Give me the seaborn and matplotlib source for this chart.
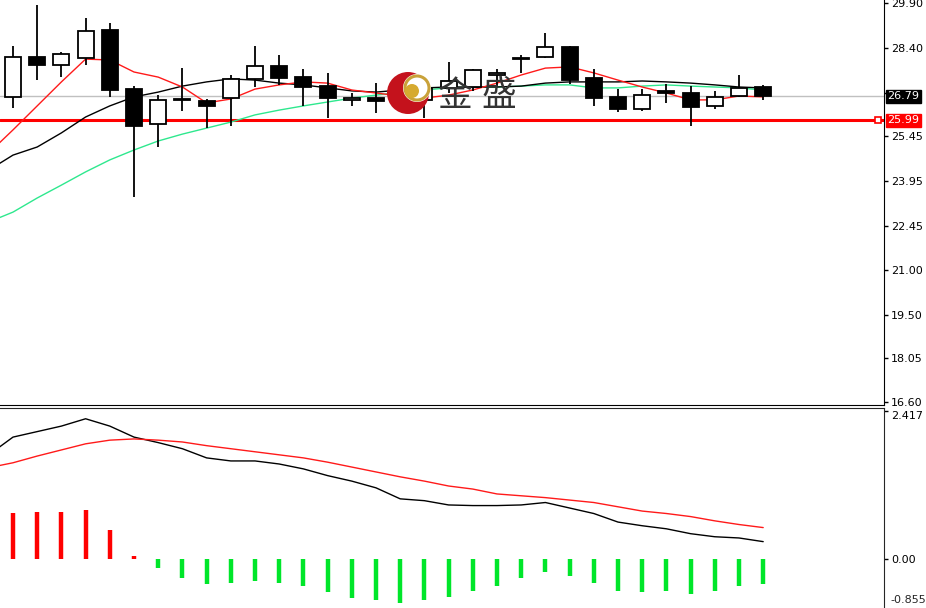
import numpy as np
import matplotlib
matplotlib.use("Agg")
import matplotlib.pyplot as plt
import seaborn as sns
from matplotlib.patches import Rectangle, Ellipse

# ==== K线数据 ====
opens = [26.77, 28.10, 27.83, 28.07, 29.00, 27.03, 25.87, 26.67, 26.63, 26.73,
         27.37, 27.80, 27.43, 27.13, 26.65, 26.73, 26.60, 26.67, 27.07, 27.10,
         27.50, 28.03, 28.10, 28.43, 27.40, 26.77, 26.37, 26.97, 26.90, 26.47,
         26.80, 27.10]
highs = [28.47, 29.83, 28.27, 29.40, 29.23, 27.13, 26.83, 27.73, 26.70, 27.50,
         28.47, 28.17, 27.70, 27.57, 26.90, 27.23, 27.00, 27.10, 27.93, 27.70,
         27.70, 28.17, 28.90, 28.47, 27.70, 27.03, 27.03, 27.20, 27.13, 26.97,
         27.50, 27.17]
lows = [26.40, 27.33, 27.43, 27.83, 26.77, 23.43, 25.10, 26.30, 25.73, 25.80,
        27.10, 27.17, 26.47, 26.07, 26.47, 26.23, 26.40, 26.07, 26.90, 26.95,
        27.10, 27.57, 28.07, 27.20, 26.47, 26.27, 26.30, 26.57, 25.80, 26.37,
        26.77, 26.67]
closes = [28.10, 27.83, 28.20, 28.97, 27.00, 25.80, 26.67, 26.70, 26.47, 27.37,
          27.80, 27.40, 27.10, 26.73, 26.72, 26.63, 26.90, 27.07, 27.30, 27.67,
          27.55, 28.07, 28.43, 27.33, 26.73, 26.37, 26.83, 26.90, 26.43, 26.77,
          27.07, 26.79]

# 均线（第一个值是图左边界外的一根）
ma_red = [24.90, 25.67, 26.47, 27.27, 28.03, 28.00, 27.60, 27.43, 27.10, 26.57,
          26.70, 27.03, 27.17, 27.27, 27.23, 27.00, 26.90, 26.80, 26.73, 26.83,
          27.00, 27.23, 27.50, 27.73, 27.77, 27.57, 27.33, 27.10, 26.90, 26.67,
          26.67, 26.80, 26.77]
ma_black = [24.33, 24.83, 25.10, 25.57, 26.10, 26.47, 26.77, 26.93, 27.13, 27.27,
            27.37, 27.33, 27.23, 27.17, 27.07, 26.97, 26.93, 27.00, 27.07, 27.10,
            27.10, 27.10, 27.13, 27.23, 27.27, 27.27, 27.27, 27.30, 27.27, 27.23,
            27.17, 27.10, 27.07]
ma_green = [22.60, 22.93, 23.40, 23.83, 24.27, 24.67, 25.00, 25.30, 25.53, 25.73,
            25.93, 26.17, 26.33, 26.47, 26.60, 26.73, 26.83, 26.93, 27.00, 27.07,
            27.10, 27.10, 27.13, 27.17, 27.17, 27.07, 27.07, 27.13, 27.17, 27.13,
            27.10, 27.07, 27.00]

# MACD
macd_hist = [0.75, 0.77, 0.77, 0.80, 0.47, 0.05, -0.15, -0.31, -0.42, -0.40,
             -0.36, -0.39, -0.44, -0.55, -0.64, -0.68, -0.72, -0.68, -0.62, -0.52,
             -0.44, -0.31, -0.21, -0.28, -0.40, -0.53, -0.55, -0.53, -0.57, -0.53,
             -0.44, -0.42]
macd_line = [1.70, 1.99, 2.08, 2.17, 2.29, 2.17, 1.99, 1.90, 1.80, 1.65,
             1.60, 1.60, 1.55, 1.47, 1.36, 1.27, 1.16, 0.98, 0.95, 0.88,
             0.87, 0.87, 0.88, 0.92, 0.83, 0.74, 0.60, 0.54, 0.49, 0.41,
             0.36, 0.34, 0.28]
signal_line = [1.49, 1.57, 1.68, 1.78, 1.88, 1.94, 1.96, 1.94, 1.91, 1.85,
               1.80, 1.75, 1.70, 1.65, 1.58, 1.50, 1.42, 1.34, 1.27, 1.19,
               1.14, 1.06, 1.03, 1.00, 0.96, 0.92, 0.85, 0.78, 0.74, 0.69,
               0.62, 0.56, 0.51]

price_ticks = [29.90, 28.40, 26.90, 25.45, 23.95, 22.45, 21.00, 19.50, 18.05, 16.60]
price_labels = ["29.90", "28.40", "", "25.45", "23.95", "22.45", "21.00", "19.50", "18.05", "16.60"]
macd_ticks = [2.417, 0.00, -0.855]
macd_labels = ["2.417", "0.00", ""]
macd_low_label = "-0.855"
last_price = 26.79
line_price = 25.99

sns.set_style("white")
plt.rcParams['font.family'] = ['DejaVu Sans', 'Noto Sans CJK SC']

W, H = 926, 608
fig = plt.figure(figsize=(W / 100, H / 100), dpi=100)
ax = fig.add_axes([0, 1 - 405 / H, 884 / W, 405 / H])
ax2 = fig.add_axes([0, 1 - 612 / H, 884 / W, 204 / H])

n = len(opens)
idx = np.arange(n)
idx_ext = np.arange(-1, n)
xlim = (-13 / 24.2, (884 - 13) / 24.2)

# ---- 主图 ----
ax.axhline(last_price, color="#c0c0c0", lw=1, zorder=1)
ax.axhline(line_price, color="#ff0000", lw=2.2, zorder=1)
ax.plot([xlim[1] - 0.25], [line_price], marker="s", ms=5, mfc="white", mec="#ff0000", mew=1.2,
        zorder=6, clip_on=False)

sns.lineplot(x=idx_ext, y=ma_green, ax=ax, color="#2ee88e", lw=1, zorder=2)
sns.lineplot(x=idx_ext, y=ma_black, ax=ax, color="black", lw=1, zorder=2)
sns.lineplot(x=idx_ext, y=ma_red, ax=ax, color="#ff1a1a", lw=1, zorder=2)

ax.vlines(idx, lows, highs, color="black", lw=1.3, zorder=3)
bw = 0.66
for i in range(n):
    o, c = opens[i], closes[i]
    fc = "white" if c >= o else "black"
    ax.add_patch(Rectangle((i - bw / 2, min(o, c)), bw, max(abs(c - o), 0.03),
                           facecolor=fc, edgecolor="black", lw=1.3, zorder=4))

ax.set_xlim(*xlim)
ax.set_ylim(16.5, 30.0)
ax.yaxis.tick_right()
ax.set_yticks(price_ticks)
ax.set_yticklabels(price_labels)
ax.set_xticks([])
for s in ["left", "top"]:
    ax.spines[s].set_visible(False)
ax.spines["right"].set_color("black")
ax.spines["bottom"].set_color("black")
ax.tick_params(axis="y", direction="out", length=3, width=1, pad=2, labelsize=8, colors="black")

# 右侧价格标签
tr = ax.get_yaxis_transform()
ax.text(1.004, last_price, "26.79", transform=tr, ha="left", va="center", fontsize=8,
        color="white", zorder=7, clip_on=False,
        bbox=dict(boxstyle="square,pad=0.15", fc="black", ec="black"))
ax.text(1.004, line_price, "25.99", transform=tr, ha="left", va="center", fontsize=8,
        color="white", zorder=7, clip_on=False,
        bbox=dict(boxstyle="square,pad=0.15", fc="#ff0000", ec="#ff0000"))

# ---- MACD副图 ----
hist_colors = ["#ff0000" if v > 0 else "#00e62a" for v in macd_hist]
ax2.vlines(idx, 0, macd_hist, colors=hist_colors, lw=3.2)
sns.lineplot(x=idx_ext, y=macd_line, ax=ax2, color="black", lw=1)
sns.lineplot(x=idx_ext, y=signal_line, ax=ax2, color="#ff1a1a", lw=1)
ax2.set_xlim(*xlim)
ax2.set_ylim(-0.871, 2.466)
ax2.yaxis.tick_right()
ax2.set_yticks(macd_ticks)
ax2.set_yticklabels(macd_labels)
ax2.set_xticks([])
for s in ["left", "bottom"]:
    ax2.spines[s].set_visible(False)
ax2.tick_params(axis="y", direction="out", length=3, width=1, pad=2, labelsize=8, colors="black")
ax2.get_yticklabels()[0].set_va("top")
# 底部标签上移一点，避免被裁掉
ax2.annotate(macd_low_label, xy=(1.0, -0.855), xycoords=ax2.get_yaxis_transform(),
             xytext=(5, 4), textcoords="offset points", ha="left", va="bottom",
             fontsize=8, annotation_clip=False)

# ---- 水印 logo ----
def px(x, y):
    return (x / W, 1 - y / H)

def circ(x, y, r, **kw):
    return Ellipse(px(x, y), 2 * r / W, 2 * r / H, transform=fig.transFigure, **kw)

fig.patches.append(circ(408, 93, 21, fc="#c4121c", ec="none", zorder=10))
fig.patches.append(circ(417, 88, 14, fc="white", ec="none", zorder=11))
fig.patches.append(circ(417, 88, 12, fc="none", ec="#c9a23a", lw=2.2, zorder=12))
fig.patches.append(circ(412, 91, 7, fc="#d6aa30", ec="none", zorder=13))
fig.text(*px(455, 96), "金", fontsize=25, color="#333333", ha="center", va="center",
         family=["Noto Sans CJK SC", "DejaVu Sans"], zorder=14)
fig.text(*px(499, 96), "盛", fontsize=25, color="#333333", ha="center", va="center",
         family=["Noto Sans CJK SC", "DejaVu Sans"], zorder=14)

fig.savefig("out.png", dpi=100, facecolor="white")
